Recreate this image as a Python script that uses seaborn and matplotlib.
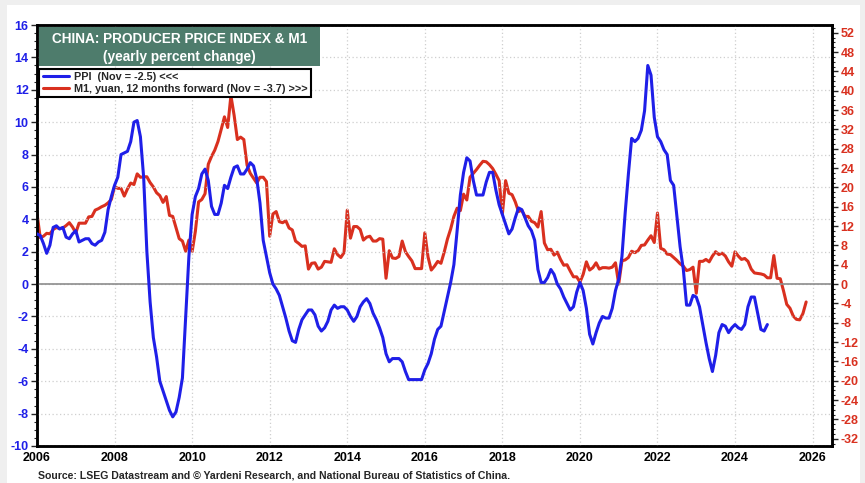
import numpy as np
import pandas as pd
import matplotlib
matplotlib.use("Agg")
import matplotlib.pyplot as plt
import seaborn as sns
from matplotlib.lines import Line2D
from matplotlib.patches import Rectangle
from matplotlib.ticker import MultipleLocator

# PPI yoy %, monthly Jan 2006 - Nov 2024 (left axis)
ppi = [
    3.1, 3.0, 2.5, 1.9, 2.4, 3.5, 3.6, 3.4, 3.5, 2.9, 2.8, 3.1,      # 2006
    3.3, 2.6, 2.7, 2.8, 2.8, 2.5, 2.4, 2.6, 2.7, 3.2, 4.6, 5.4,      # 2007
    6.1, 6.6, 8.0, 8.1, 8.2, 8.8, 10.0, 10.1, 9.1, 6.6, 2.0, -1.1,   # 2008
    -3.3, -4.5, -6.0, -6.6, -7.2, -7.8, -8.2, -7.9, -7.0, -5.8, -2.1, 1.7,  # 2009
    4.3, 5.4, 5.9, 6.8, 7.1, 6.4, 4.8, 4.3, 4.3, 5.0, 6.1, 5.9,      # 2010
    6.6, 7.2, 7.3, 6.8, 6.8, 7.1, 7.5, 7.3, 6.5, 5.0, 2.7, 1.7,      # 2011
    0.7, 0.0, -0.3, -0.7, -1.4, -2.1, -2.9, -3.5, -3.6, -2.8, -2.2, -1.9,  # 2012
    -1.6, -1.6, -1.9, -2.6, -2.9, -2.7, -2.3, -1.6, -1.3, -1.5, -1.4, -1.4,  # 2013
    -1.6, -2.0, -2.3, -2.0, -1.4, -1.1, -0.9, -1.2, -1.8, -2.2, -2.7, -3.3,  # 2014
    -4.3, -4.8, -4.6, -4.6, -4.6, -4.8, -5.4, -5.9, -5.9, -5.9, -5.9, -5.9,  # 2015
    -5.3, -4.9, -4.3, -3.4, -2.8, -2.6, -1.7, -0.8, 0.1, 1.2, 3.3, 5.5,     # 2016
    6.9, 7.8, 7.6, 6.4, 5.5, 5.5, 5.5, 6.3, 6.9, 6.9, 5.8, 4.9,      # 2017
    4.3, 3.7, 3.1, 3.4, 4.1, 4.7, 4.6, 4.1, 3.6, 3.3, 2.7, 0.9,      # 2018
    0.1, 0.1, 0.4, 0.9, 0.6, 0.0, -0.3, -0.8, -1.2, -1.6, -1.4, -0.5,  # 2019
    0.1, -0.4, -1.5, -3.1, -3.7, -3.0, -2.4, -2.0, -2.1, -2.1, -1.5, -0.4,  # 2020
    0.3, 1.7, 4.4, 6.8, 9.0, 8.8, 9.0, 9.5, 10.7, 13.5, 12.9, 10.3,  # 2021
    9.1, 8.8, 8.3, 8.0, 6.4, 6.1, 4.2, 2.3, 0.9, -1.3, -1.3, -0.7,   # 2022
    -0.8, -1.4, -2.5, -3.6, -4.6, -5.4, -4.4, -3.0, -2.5, -2.6, -3.0, -2.7,  # 2023
    -2.5, -2.7, -2.8, -2.5, -1.4, -0.8, -0.8, -1.8, -2.8, -2.9, -2.5,       # 2024
]

# M1 yoy %, monthly Jan 2005 - Nov 2024, drawn 12 months forward (right axis)
m1 = [
    14.6, 9.6, 9.9, 10.5, 10.4, 11.3, 11.7, 11.5, 11.6, 12.1, 12.7, 11.8,   # 2005
    10.6, 12.6, 12.6, 12.6, 13.9, 14.0, 15.3, 15.6, 16.0, 16.3, 16.8, 17.5, # 2006
    20.2, 19.8, 19.8, 18.2, 19.7, 20.9, 20.6, 22.8, 22.1, 22.2, 22.2, 21.0, # 2007
    20.1, 18.9, 18.3, 16.9, 18.1, 14.2, 14.0, 11.7, 9.4, 8.9, 6.8, 9.1,     # 2008
    6.7, 10.9, 17.0, 17.5, 18.7, 24.8, 26.4, 27.7, 29.5, 32.0, 34.6, 32.4,  # 2009
    39.0, 34.9, 29.9, 30.4, 29.9, 24.6, 22.9, 21.9, 20.9, 22.1, 22.1, 21.2, # 2010
    9.9, 14.5, 15.0, 12.9, 12.7, 13.1, 11.6, 11.2, 8.9, 8.4, 7.8, 7.9,      # 2011
    3.1, 4.3, 4.4, 3.1, 3.5, 4.7, 4.6, 4.5, 7.3, 6.1, 5.5, 6.5,            # 2012
    15.3, 9.5, 11.9, 11.9, 11.3, 9.1, 9.7, 9.9, 8.9, 8.9, 9.4, 9.3,         # 2013
    1.2, 6.9, 5.4, 5.3, 5.7, 8.9, 6.7, 5.7, 4.8, 3.2, 3.2, 3.2,            # 2014
    10.6, 5.6, 2.9, 3.7, 4.7, 4.3, 6.6, 9.3, 11.4, 14.0, 15.7, 15.2,        # 2015
    18.6, 17.4, 22.1, 22.9, 23.7, 24.6, 25.4, 25.3, 24.7, 23.9, 22.7, 21.4, # 2016
    14.5, 21.4, 18.8, 18.5, 17.0, 15.0, 15.3, 14.0, 14.0, 13.0, 12.7, 11.8, # 2017
    15.0, 8.5, 7.1, 7.2, 6.0, 6.6, 5.1, 3.9, 4.0, 2.7, 1.5, 1.5,           # 2018
    0.4, 2.0, 4.6, 2.9, 3.4, 4.4, 3.1, 3.4, 3.4, 3.3, 3.5, 4.4,            # 2019
    0.0, 4.8, 5.0, 5.5, 6.8, 6.5, 6.9, 8.0, 8.1, 9.1, 10.0, 8.6,           # 2020
    14.7, 7.4, 7.1, 6.2, 6.1, 5.5, 4.9, 4.2, 3.7, 2.8, 3.0, 3.5,           # 2021
    -1.9, 4.7, 4.7, 5.1, 4.6, 5.8, 6.7, 6.1, 6.4, 5.8, 4.6, 3.7,           # 2022
    6.7, 5.8, 5.1, 5.3, 4.7, 3.1, 2.3, 2.2, 2.1, 1.9, 1.3, 1.3,            # 2023
    5.9, 1.2, 1.1, -1.4, -4.2, -5.0, -6.6, -7.3, -7.4, -6.1, -3.7,         # 2024
]

ppi_dates = pd.date_range("2006-01-01", periods=len(ppi), freq="MS")
m1_dates = pd.date_range("2006-01-01", periods=len(m1), freq="MS")  # shifted +12m

df_ppi = pd.DataFrame({"x": ppi_dates.year + (ppi_dates.month - 1) / 12, "v": ppi})
df_m1 = pd.DataFrame({"x": m1_dates.year + (m1_dates.month - 1) / 12, "v": m1})

sns.set_theme(style="white")
plt.rcParams['font.family'] = ['Liberation Sans Narrow', 'Liberation Sans', 'DejaVu Sans']
plt.rcParams['font.weight'] = 'bold'
plt.rcParams['axes.unicode_minus'] = False

BLUE = "#1f1fe8"
RED = "#d9301f"

fig = plt.figure(figsize=(8.65, 4.83), dpi=100, facecolor="#efefef")
fig.patches.append(Rectangle((7 / 865, 0), 853 / 865, 478 / 483,
                             transform=fig.transFigure, facecolor="white",
                             edgecolor="none", zorder=-10))
ax = fig.add_axes([37 / 865, 1 - 446 / 483, 795 / 865, 421 / 483])
ax2 = ax.twinx()
ax.set_facecolor("none")
ax2.set_facecolor("none")

ax.set_xlim(2006, 2026.5)
ax.set_ylim(-10, 16)
ax2.set_ylim(-33.5, 53.6)

ax.axhline(0, color="#8c8c8c", lw=1.2, zorder=1)
ax.grid(True, which="major", color="#cfcfcf", ls=(0, (1, 2)), lw=0.9)

sns.lineplot(data=df_m1, x="x", y="v", ax=ax2, color=RED, lw=2.2, zorder=2)
sns.lineplot(data=df_ppi, x="x", y="v", ax=ax, color=BLUE, lw=2.2, zorder=3)
ax.set_zorder(ax2.get_zorder() + 1)

ax.set_xlabel("")
ax.set_ylabel("")
ax2.set_ylabel("")

ax.xaxis.set_major_locator(MultipleLocator(2))
ax.xaxis.set_minor_locator(MultipleLocator(0.5))
ax.yaxis.set_major_locator(MultipleLocator(2))
ax.yaxis.set_minor_locator(MultipleLocator(0.5))
ax2.yaxis.set_major_locator(MultipleLocator(4))
ax2.yaxis.set_minor_locator(MultipleLocator(1))

ax.tick_params(axis="x", which="major", direction="in", length=4, width=1,
               labelsize=9, labelcolor="black", pad=4)
ax.tick_params(axis="x", which="minor", direction="in", length=2, width=0.8)
ax.tick_params(axis="y", which="major", direction="out", length=4, width=1,
               labelsize=9, labelcolor=BLUE, pad=2)
ax.tick_params(axis="y", which="minor", direction="out", length=2, width=0.8)
ax2.tick_params(axis="y", which="major", direction="out", length=4, width=1,
                labelsize=9, labelcolor=RED, pad=2)
ax2.tick_params(axis="y", which="minor", direction="out", length=2, width=0.8)

for a in (ax, ax2):
    for s in a.spines.values():
        s.set_color("black")
        s.set_linewidth(1.8)
for lab in ax.get_xticklabels() + ax.get_yticklabels() + ax2.get_yticklabels():
    lab.set_fontweight("bold")

# title box
ax.add_patch(Rectangle((2006.05, 13.45), 7.25, 2.43, facecolor="#4e7c6c",
                       edgecolor="none", zorder=5))
ax.text(2009.67, 15.12, "CHINA: PRODUCER PRICE INDEX & M1", color="white",
        fontsize=9.8, fontweight="bold", ha="center", va="center", zorder=6)
ax.text(2009.67, 14.03, "(yearly percent change)", color="white",
        fontsize=9.8, fontweight="bold", ha="center", va="center", zorder=6)

handles = [Line2D([], [], color=BLUE, lw=2.2), Line2D([], [], color=RED, lw=2.2)]
leg = ax.legend(handles, ["PPI  (Nov = -2.5) <<<",
                          "M1, yuan, 12 months forward (Nov = -3.7) >>>"],
                loc="upper left", bbox_to_anchor=(0.003, 0.8955), fancybox=False,
                framealpha=1, edgecolor="black", handlelength=2.4,
                borderpad=0.3, labelspacing=0.15, handletextpad=0.5,
                borderaxespad=0, prop={"weight": "bold", "size": 7.8})
leg.get_frame().set_linewidth(1.5)
leg.set_zorder(6)

fig.text(38 / 865, 1 - 476 / 483,
         "Source: LSEG Datastream and \u00a9 Yardeni Research, and National Bureau of Statistics of China.",
         fontsize=7.6, fontweight="bold", ha="left", va="center")

fig.savefig("out.png", dpi=100, facecolor=fig.get_facecolor())
